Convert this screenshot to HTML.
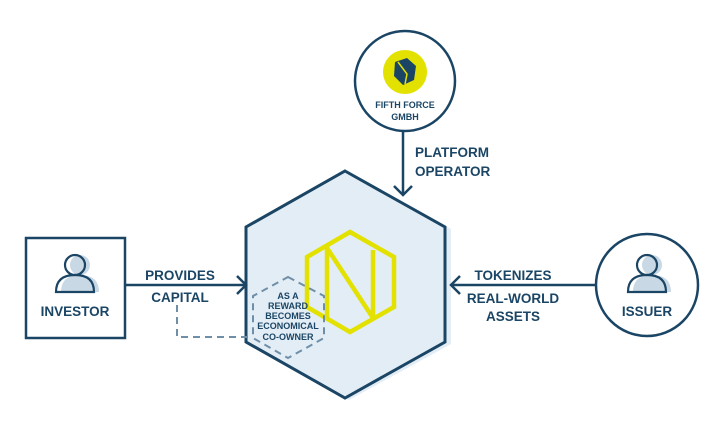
<!DOCTYPE html>
<html><head><style>
body{margin:0;background:#fff;}
svg{display:block;font-family:"Liberation Sans",sans-serif;font-weight:bold;}
</style></head><body>
<svg width="707" height="444" viewBox="0 0 707 444">
<defs>
<g id="person">
<circle cx="0" cy="-10" r="10" />
<path d="M-19,17 Q-19,0 0,0 Q19,0 19,17 Z"/>
</g>
</defs>
<polygon points="349,173 451,229 451,344 349,400 252,344 252,229" fill="#e3edf5"/>
<polygon points="345,171 445,227 445,342 345,398 246,342 246,227" fill="#e3edf5" stroke="#1b4565" stroke-width="3"/>
<g fill="none" stroke="#e3e100" stroke-width="4.5">
<polygon points="350,232 394,257 394,307 350,332 307,307 307,257"/>
<line x1="327" y1="246" x2="327" y2="320"/>
<line x1="327" y1="248" x2="373" y2="318"/>
<line x1="373" y1="250" x2="373" y2="320"/>
</g>
<polygon points="288,277 324,296 324,338 288,358 253,338 253,296" fill="none" stroke="#6f8fa8" stroke-width="2" stroke-dasharray="7,5"/>
<polyline points="177,305 177,337 253,337" fill="none" stroke="#6f8fa8" stroke-width="2" stroke-dasharray="7,5"/>
<g fill="#1b4565" font-size="9" text-anchor="middle">
<text x="288" y="299">AS A</text>
<text x="288" y="309">REWARD</text>
<text x="288" y="319">BECOMES</text>
<text x="288" y="329">ECONOMICAL</text>
<text x="288" y="340">CO-OWNER</text>
</g>
<rect x="26" y="238" width="99" height="100" fill="none" stroke="#1b4565" stroke-width="2.5"/>
<g transform="translate(80,275)" fill="#c8d8e4"><use href="#person"/></g>
<g transform="translate(75,275)" fill="none" stroke="#1b4565" stroke-width="2.2"><use href="#person"/></g>
<text x="75" y="316" font-size="13.5" fill="#1b4565" text-anchor="middle">INVESTOR</text>
<line x1="125" y1="285" x2="246" y2="285" stroke="#1b4565" stroke-width="2.5"/>
<polyline points="237,276 246,285 237,294" fill="none" stroke="#1b4565" stroke-width="2.5"/>
<g fill="#1b4565" font-size="13.5" text-anchor="middle">
<text x="180" y="280">PROVIDES</text>
<text x="180" y="302">CAPITAL</text>
</g>
<circle cx="647" cy="285" r="51" fill="#fff" stroke="#1b4565" stroke-width="2.5"/>
<g transform="translate(652,275)" fill="#c8d8e4"><use href="#person"/></g>
<g transform="translate(647,275)" fill="none" stroke="#1b4565" stroke-width="2.2"><use href="#person"/></g>
<text x="647" y="316" font-size="13.5" fill="#1b4565" text-anchor="middle">ISSUER</text>
<line x1="596" y1="285" x2="451" y2="285" stroke="#1b4565" stroke-width="2.5"/>
<polyline points="460,276 451,285 460,294" fill="none" stroke="#1b4565" stroke-width="2.5"/>
<g fill="#1b4565" font-size="13.5" text-anchor="middle">
<text x="513" y="280">TOKENIZES</text>
<text x="513" y="303">REAL-WORLD</text>
<text x="513" y="321">ASSETS</text>
</g>
<circle cx="405" cy="81" r="50" fill="#fff" stroke="#1b4565" stroke-width="2.5"/>
<circle cx="405" cy="72" r="22" fill="#e3e100"/>
<polygon points="395,62 407,58 416,66 414,80 403,85 394,76" fill="#1b4565"/>
<polyline points="398,62 407,74 405,84" fill="none" stroke="#e3e100" stroke-width="1.5"/>
<g fill="#1b4565" font-size="9" text-anchor="middle">
<text x="405" y="108">FIFTH FORCE</text>
<text x="405" y="120">GMBH</text>
</g>
<line x1="403" y1="131" x2="403" y2="195" stroke="#1b4565" stroke-width="2.5"/>
<polyline points="394,186 403,195 412,186" fill="none" stroke="#1b4565" stroke-width="2.5"/>
<g fill="#1b4565" font-size="13.5">
<text x="415" y="157">PLATFORM</text>
<text x="415" y="176">OPERATOR</text>
</g>
</svg>
</body></html>
